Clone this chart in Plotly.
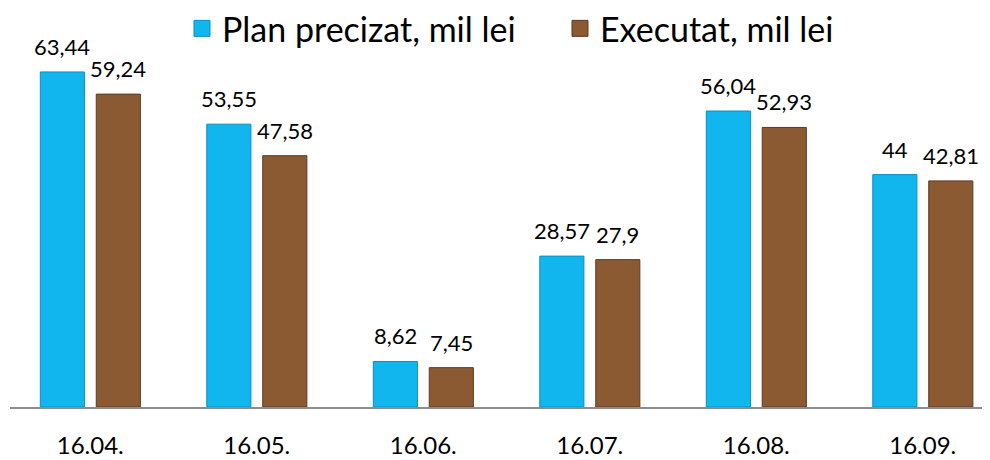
import plotly.graph_objects as go

categories = ["16.04.", "16.05.", "16.06.", "16.07.", "16.08.", "16.09."]
plan_values = [63.44, 53.55, 8.62, 28.57, 56.04, 44]
exec_values = [59.24, 47.58, 7.45, 27.9, 52.93, 42.81]
series_names = ["Plan precizat, mil lei", "Executat, mil lei"]


def fmt(v):
    return ("%g" % v).replace(".", ",")


FONT = "Lato, Carlito, Calibri, sans-serif"
CYAN = "#12B6EE"
CYAN_LINE = "#0A8FC2"
BROWN = "#8B5A33"
BROWN_LINE = "#5E3B1F"

fig = go.Figure()
fig.add_trace(go.Bar(
    x=categories, y=plan_values, name=series_names[0], showlegend=False,
    marker=dict(color=CYAN, line=dict(color=CYAN_LINE, width=1)),
    width=0.265, offset=-0.3,
))
fig.add_trace(go.Bar(
    x=categories, y=exec_values, name=series_names[1], showlegend=False,
    marker=dict(color=BROWN, line=dict(color=BROWN_LINE, width=1)),
    width=0.265, offset=0.036,
))

# legend entries (larger square symbols)
for name, col, lc in [(series_names[0], CYAN, CYAN_LINE), (series_names[1], BROWN, BROWN_LINE)]:
    fig.add_trace(go.Scatter(
        x=[None], y=[None], mode="markers", name=name,
        marker=dict(symbol="square", size=16, color=col, line=dict(color=lc, width=1)),
    ))

# data labels
for vals, shift in [(plan_values, -28), (exec_values, 28)]:
    for c, v in zip(categories, vals):
        fig.add_annotation(
            x=c, y=v, text=fmt(v), showarrow=False,
            xanchor="center", yanchor="bottom", xshift=shift, yshift=10,
            font=dict(size=22, family=FONT, color="#000000"),
        )

# page body has an 8px margin, so the figure is drawn at (8, 8)
fig.update_layout(
    width=982, height=452,
    margin=dict(l=2, r=0, t=52, b=53, autoexpand=False),
    paper_bgcolor="white", plot_bgcolor="white",
    font=dict(family=FONT, color="#000000"),
    barmode="group",
    showlegend=True,
    legend=dict(
        orientation="h", x=0.1755, xanchor="left", y=1.09, yanchor="middle",
        font=dict(size=34, family=FONT, color="#000000"),
        itemsizing="trace", bgcolor="rgba(0,0,0,0)",
        entrywidth=333, entrywidthmode="pixels",
    ),
    xaxis=dict(
        type="category", range=[-0.482, 5.404],
        showline=True, linecolor="#8C8C8C", linewidth=2,
        showgrid=False, zeroline=False, ticks="",
        tickfont=dict(size=24, family=FONT, color="#000000"),
        ticklabelstandoff=16,
    ),
    yaxis=dict(
        range=[0, 65.7], showgrid=False, zeroline=False,
        showticklabels=False, showline=False, ticks="",
    ),
)

fig.write_html("out.html")
